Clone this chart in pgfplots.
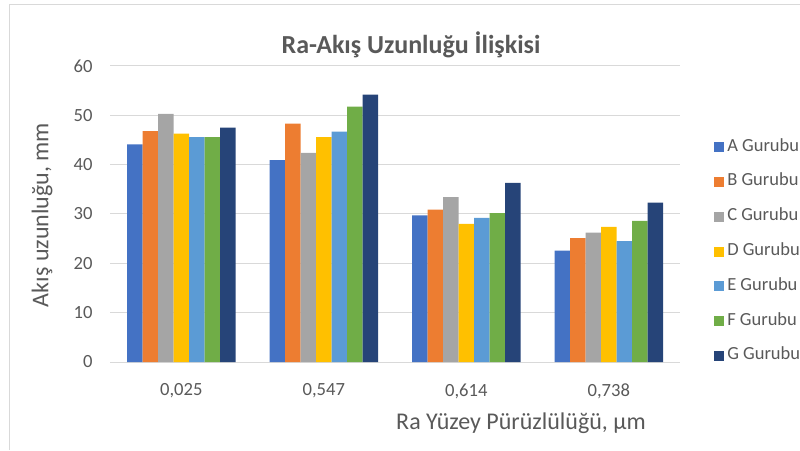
\documentclass[border=0pt]{standalone}
\usepackage{pgfplots}
\pgfplotsset{compat=1.18}
\usepackage{fontspec}
\setmainfont{Carlito}
\definecolor{cA}{HTML}{4472C4}
\definecolor{cB}{HTML}{ED7D31}
\definecolor{cC}{HTML}{A5A5A5}
\definecolor{cD}{HTML}{FFC000}
\definecolor{cE}{HTML}{5B9BD5}
\definecolor{cF}{HTML}{70AD47}
\definecolor{cG}{HTML}{264478}
\definecolor{gridgray}{HTML}{D9D9D9}
\definecolor{txtgray}{HTML}{595959}

\begin{document}
\begin{tikzpicture}[x=1pt,y=1pt]
\path[use as bounding box] (0,0) rectangle (800,450);
\draw[gridgray, line width=1pt] (9,0) -- (9,445) -- (800,445);

\node[font=\fontsize{26}{30}\selectfont\bfseries, text=txtgray] at (411,405) {Ra-Akış Uzunluğu İlişkisi};
\node[font=\fontsize{24}{28}\selectfont, text=txtgray, rotate=90] at (42,235) {Akış uzunluğu, mm};
\node[font=\fontsize{24}{28}\selectfont, text=txtgray] at (521,27) {Ra Yüzey Pürüzlülüğü, μm};

\begin{axis}[
    at={(110pt,88pt)}, anchor=south west,
    scale only axis,
    width=570pt, height=296pt,
    ybar=0pt, bar width=15.5pt,
    xmin=-0.5, xmax=3.5,
    ymin=0, ymax=60,
    xtick={0,1,2,3},
    xticklabels={0{,}025, 0{,}547, 0{,}614, 0{,}738},
    ytick={0,10,...,60},
    ymajorgrids,
    grid style={gridgray, line width=1pt},
    axis line style={draw=none},
    major tick length=0pt,
    /pgf/number format/assume math mode=true,
    tick label style={font=\fontsize{18.6}{22}\selectfont, text=txtgray},
    yticklabel style={xshift=-14pt},
    xticklabel style={yshift=-18pt},
    legend style={draw=none, fill=none,
        at={(1.0596,0.373)}, anchor=west, inner sep=0pt,
        font=\fontsize{18.5}{22}\selectfont, text=txtgray,
        row sep=18.8pt,
        nodes={inner sep=0pt, text height=12pt, text depth=4pt}},
    legend cell align=left,
    legend image code/.code={\fill[#1] (0pt,-5pt) rectangle (10pt,5pt);},
]
\addplot[fill=cA, draw=none] coordinates {(0,44.1) (1,40.9) (2,29.7) (3,22.6)};
\addlegendentry{\,A Gurubu}
\addplot[fill=cB, draw=none] coordinates {(0,46.8) (1,48.3) (2,30.9) (3,25.1)};
\addlegendentry{\,B Gurubu}
\addplot[fill=cC, draw=none] coordinates {(0,50.3) (1,42.4) (2,33.4) (3,26.2)};
\addlegendentry{\,C Gurubu}
\addplot[fill=cD, draw=none] coordinates {(0,46.3) (1,45.6) (2,28.0) (3,27.4)};
\addlegendentry{\,D Gurubu}
\addplot[fill=cE, draw=none] coordinates {(0,45.6) (1,46.7) (2,29.2) (3,24.5)};
\addlegendentry{\,E Gurubu}
\addplot[fill=cF, draw=none] coordinates {(0,45.6) (1,51.75) (2,30.2) (3,28.6)};
\addlegendentry{\,F Gurubu}
\addplot[fill=cG, draw=none] coordinates {(0,47.5) (1,54.2) (2,36.3) (3,32.3)};
\addlegendentry{\,G Gurubu}
\end{axis}
\end{tikzpicture}
\end{document}
